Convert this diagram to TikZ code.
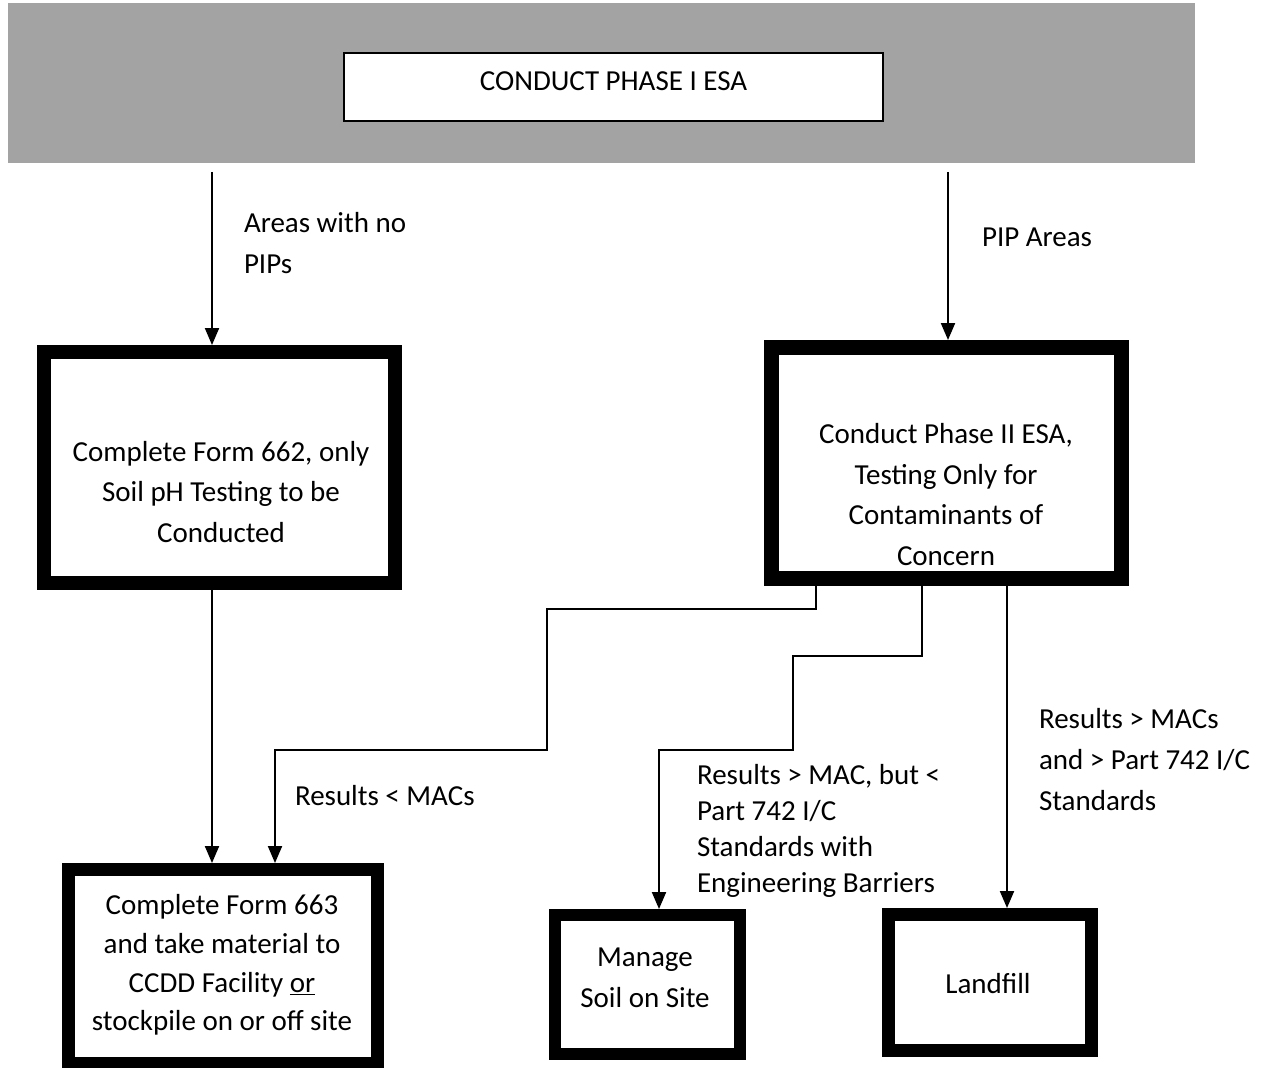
\documentclass[tikz,border=0pt]{standalone}
\usepackage{fontspec}
\setmainfont{Carlito}
\usepackage{tikz}
\usetikzlibrary{positioning, arrows.meta}
\definecolor{bandgray}{RGB}{163,163,163}

\begin{document}
\begin{tikzpicture}[x=0.02cm, y=-0.02cm, -{Triangle[length=0.34cm,width=0.28cm]}, line width=0.04cm,
		font=\fontsize{16.5}{23.3}\selectfont,
		box/.style={draw, rectangle, inner sep=0pt, fill=white},
		txt/.style={align=center, inner sep=0pt},
		lbl/.style={align=left, anchor=west, inner sep=0pt}]
			\useasboundingbox (0,0) rectangle (1266,1067);
			\clip (0,0) rectangle (1266,1067);
			
			\node[fill=bandgray, minimum width=23.74cm, minimum height=3.2cm, inner sep=0pt] (band) at (601.5,83) {};
			\node[box, line width=0.05cm, minimum width=10.78cm, minimum height=1.36cm] (phaseI) at (613.5,87) {};
			\node[txt] (phaseI-text) at (613.5,81) {CONDUCT PHASE I ESA};
			
			\node[box, line width=0.28cm, minimum width=7.02cm, minimum height=4.62cm] (form662) at (219.5,467.5) {};
			\node[txt] (form662-text) at (221,492) {Complete Form 662, only\\Soil pH Testing to be\\Conducted};
			
			\node[box, line width=0.3cm, minimum width=7cm, minimum height=4.62cm] (phaseII) at (946.5,463) {};
			\node[txt] (phaseII-text) at (946,494.5) {Conduct Phase II ESA,\\Testing Only for\\Contaminants of\\Concern};
			
			\node[box, line width=0.26cm, minimum width=6.18cm, minimum height=3.89cm] (form663) at (223,966.75) {};
			\node[txt, font=\fontsize{16.5}{22.1}\selectfont] (form663-text) at (222,965) {Complete Form 663\\and take material to\\CCDD Facility \underline{or}\\stockpile on or off site};
			
			\node[box, line width=0.24cm, minimum width=3.7cm, minimum height=2.78cm] (manage) at (647.5,984.5) {};
			\node[txt] (manage-text) at (645,978) {Manage\\Soil on Site};
			
			\node[box, line width=0.26cm, minimum width=4.06cm, minimum height=2.72cm] (landfill) at (990,982.5) {};
			\node[txt] (landfill-text) at (988,983.5) {Landfill};
			
			\coordinate (a0) at (212,172);
			\draw (a0) -- (a0 |- form662.north);
			\node[lbl] (nopip) at (243,243.5) {Areas with no\\PIPs};
			
			\coordinate (b0) at (948,172);
			\draw (b0) -- (b0 |- phaseII.north);
			\node[lbl] (pip) at (981,237) {PIP Areas};
			
			\draw (a0 |- form662.south) -- (a0 |- form663.north);
			
			\coordinate (d0) at (816,0);
			\coordinate (d1) at (547,609);
			\coordinate (d2) at (275,750);
			\draw (d0 |- phaseII.south) |- (d1) |- (d2) -- (d2 |- form663.north);
			\node[lbl] (less) at (294,796) {Results < MACs};
			
			\coordinate (e0) at (922,0);
			\coordinate (e1) at (793,656);
			\coordinate (e2) at (659,750);
			\draw (e0 |- phaseII.south) |- (e1) |- (e2) -- (e2 |- manage.north);
			\node[lbl, font=\fontsize{16.5}{20.6}\selectfont] (barrier) at (696,831) {Results > MAC, but <\\Part 742 I/C\\Standards with\\Engineering Barriers};
			
			\coordinate (f0) at (1007,0);
			\draw (f0 |- phaseII.south) -- (f0 |- landfill.north);
			\node[lbl] (more) at (1038,759.5) {Results > MACs\\and > Part 742 I/C\\Standards};
	\end{tikzpicture}
\end{document}
